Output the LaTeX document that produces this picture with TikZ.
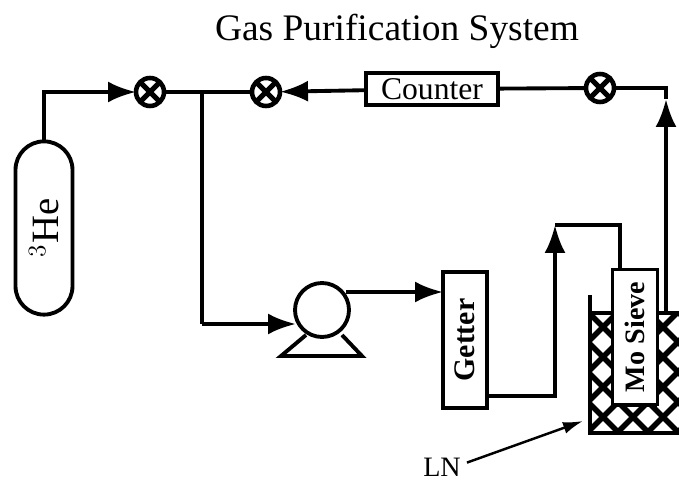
\documentclass[tikz,border=0pt]{standalone}
\usepackage{fontspec}
\setmainfont{Liberation Serif}
\usetikzlibrary{arrows.meta,shapes.misc}
\tikzset{
	pipe/.style={line width=2.2pt},
	flow/.style={line width=2.2pt,-{Latex[length=0.56cm,width=0.42cm]}},
	box/.style={draw,line width=2.2pt,inner sep=0,outer sep=0},
	valve/.style={circle,draw,line width=2.6pt,inner sep=0,outer sep=0,minimum size=0.56cm,
		path picture={\draw[line width=3pt] (path picture bounding box.north west) -- (path picture bounding box.south east)
			(path picture bounding box.north east) -- (path picture bounding box.south west);}},
	hatchline/.style={line width=3.2pt},
	tag/.style={font=\bfseries\fontsize{#1}{#1}\selectfont}
}
\begin{document}
\begin{tikzpicture}[x=0.02cm,y=-0.02cm]
	\useasboundingbox (0,0) rectangle (679,482);
	\node[font=\fontsize{21.3}{22}\selectfont] (title) at (397,31) {Gas Purification System};
	% tank, valves, pump
	\node[rounded rectangle,rotate=90,draw,line width=2.2pt,outer sep=0,minimum width=3.7cm,minimum height=1.14cm,font=\fontsize{22}{22}\selectfont] (tank) at (44,228) {$^3$He};
	\node[valve] (valveA) at (150,92) {};
	\node[valve] (valveB) at (266,92) {};
	\node[valve] (valveC) at (600,88) {};
	\node[box,minimum width=2.64cm,minimum height=0.64cm,font=\fontsize{18}{18}\selectfont] (counter) at (432,89) {Counter};
	\node[circle,draw,line width=2.2pt,outer sep=0,minimum size=1.08cm] (pump) at (322,310) {};
	\node[box,rotate=90,minimum width=2.72cm,minimum height=0.88cm,tag=17] (getter) at (465,340) {Getter};
	\node[box,rotate=90,minimum width=2.7cm,minimum height=0.9cm,tag=16] (sieve) at (635,337) {Mo Sieve};
	\node[font=\fontsize{16}{16}\selectfont] (ln) at (442,467) {LN};
	% helper points
	\coordinate (tankcorner) at (44,92);
	\coordinate (tee) at (202,92);
	\coordinate (pumpcorner) at (202,324);
	\coordinate (pumpin) at (296,324);
	\coordinate (pumpout) at (346,292);
	\coordinate (getterin) at (443,292);
	\coordinate (getterout) at (487,396);
	\coordinate (gettercorner) at (555,396);
	\coordinate (arrowtip) at (555,225);
	\coordinate (sievecorner) at (620,225);
	\coordinate (sievein) at (620,270);
	\coordinate (riserfoot) at (666,313);
	\coordinate (risertip) at (666,99);
	\coordinate (risercorner) at (666,88);
	\coordinate (lntip) at (583,421);
	\coordinate (footleft) at (306,335);
	\coordinate (footright) at (342,335);
	\coordinate (baseleft) at (281,356);
	\coordinate (baseright) at (362,356);
	% pipes
	\draw[flow] (tank.east) -- (tankcorner) -- (valveA);
	\draw[pipe] (valveA) -- (valveB);
	\draw[flow] (counter) -- (valveB);
	\draw[pipe] (valveC) -- (counter);
	\draw[pipe] (tee) -- (pumpcorner);
	\draw[flow] (pumpcorner) -- (pumpin);
	\draw[flow] (pumpout) -- (getterin);
	\draw[flow] (getterout) -- (gettercorner) -- (arrowtip);
	\draw[pipe] (arrowtip) -- (sievecorner) -- (sievein);
	\draw[flow] (riserfoot) -- (risertip);
	\draw[pipe] (risertip) -- (risercorner) -- (valveC);
	\draw[pipe] (footleft) -- (baseleft) -- (baseright) -- (footright);
	\draw[line width=1.4pt,-{Latex[length=0.4cm,width=0.24cm]}] (ln.10) -- (lntip);
	% dewar and liquid nitrogen
	\begin{scope}
		\clip (590,313) -- (612,313) -- (612,405) -- (657,405) -- (657,313) -- (679,313) -- (679,433) -- (590,433) -- cycle;
		\foreach \k in {-7,...,7} {
			\draw[hatchline] ({603+30*\k-200},217) -- ({603+30*\k+200},617);
			\draw[hatchline] ({603+30*\k+200},217) -- ({603+30*\k-200},617);
		}
	\end{scope}
	\draw[line width=2.6pt] (590,295) -- (590,433) -- (679,433);
	\draw[line width=2.6pt] (590,313) -- (612,313) (657,313) -- (679,313);
	\draw[line width=2.6pt] (612,405) -- (657,405);
\end{tikzpicture}
\end{document}
